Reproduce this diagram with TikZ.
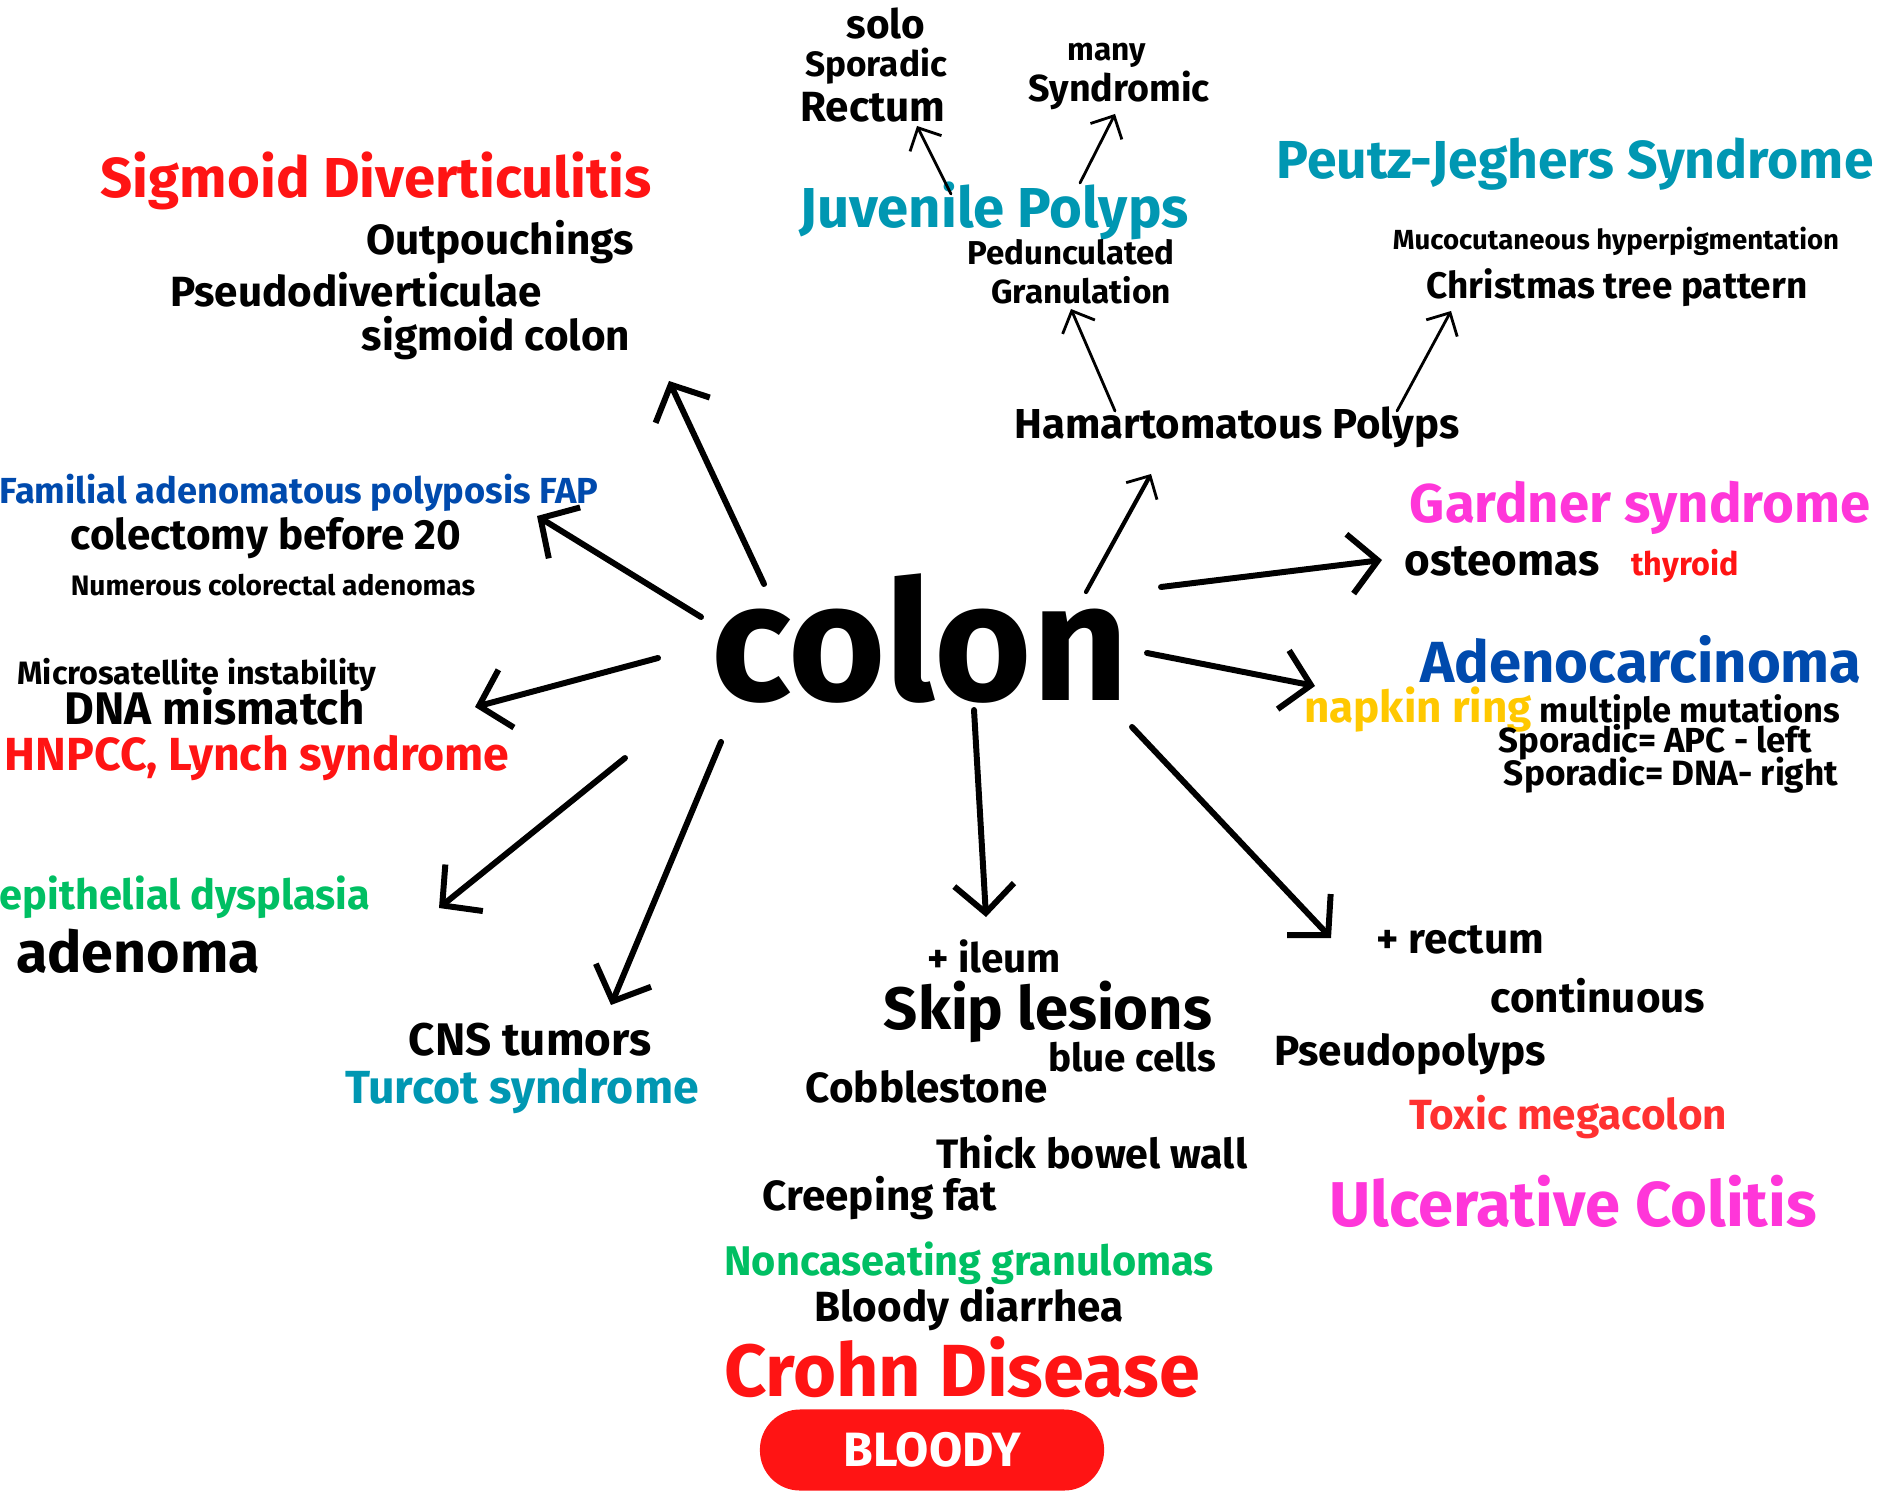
\documentclass[tikz,border=0pt]{standalone}
\usepackage{fontspec}
\setmainfont{Fira Sans}
\usepackage{tikz}
\usetikzlibrary{arrows.meta}

\definecolor{tealc}{HTML}{0097B2}
\definecolor{redc}{HTML}{FF1414}
\definecolor{bluec}{HTML}{004AAD}
\definecolor{pinkc}{HTML}{FF36D9}
\definecolor{greenc}{HTML}{00BF63}
\definecolor{yellowc}{HTML}{FFC800}
\definecolor{toxicc}{HTML}{FF3131}

\newcommand{\txtsize}[1]{\bfseries\fontsize{#1}{#1}\selectfont}

\tikzset{
  lbl/.style={inner sep=0pt},
  bigarrow/.style={line width=1.7pt, line cap=round, -{Straight Barb[length=8pt,width=17pt,line width=1.7pt]}},
  smallarrow/.style={line width=0.8pt, line cap=round, -{Straight Barb[length=5pt,width=10pt,line width=0.8pt]}}
}

\begin{document}
\begin{tikzpicture}[x=0.01cm, y=-0.01cm]
        \useasboundingbox (0,0) rectangle (1880,1492);
        % centre
        \node[lbl, font=\txtsize{47.5}] (colon) at (920,639) {colon};
        % juvenile polyps
        \node[lbl, font=\txtsize{11.5}] (solo) at (886,24) {solo};
        \node[lbl, font=\txtsize{10}] (spor) at (876,66) {Sporadic};
        \node[lbl, font=\txtsize{12}] (rect) at (873,107) {Rectum};
        \node[lbl, font=\txtsize{9}] (many) at (1107,55) {many};
        \node[lbl, font=\txtsize{10.7}] (synd) at (1119,90) {Syndromic};
        \node[lbl, font=\txtsize{16}, text=tealc] (juv) at (994,211) {Juvenile Polyps};
        \node[lbl, font=\txtsize{9.4}] (pedu) at (1071,252) {Pedunculated};
        \node[lbl, font=\txtsize{9.5}] (gran) at (1081,290) {Granulation};
        \node[lbl, font=\txtsize{11.9}] (hama) at (1237,427) {Hamartomatous Polyps};
        % peutz-jeghers
        \node[lbl, font=\txtsize{15.2}, text=tealc] (pjs) at (1575,164) {Peutz-Jeghers Syndrome};
        \node[lbl, font=\txtsize{7.85}] (muco) at (1616,241) {Mucocutaneous hyperpigmentation};
        \node[lbl, font=\txtsize{10.5}] (xmas) at (1617,288) {Christmas tree pattern};
        % sigmoid
        \node[lbl, font=\txtsize{16}, text=redc] (sigd) at (376,181) {Sigmoid Diverticulitis};
        \node[lbl, font=\txtsize{12}] (outp) at (500,242) {Outpouchings};
        \node[lbl, font=\txtsize{12}] (pseud) at (356,290) {Pseudodiverticulae};
        \node[lbl, font=\txtsize{12}] (sigc) at (496,338) {sigmoid colon};
        % FAP
        \node[lbl, font=\txtsize{10.3}, text=bluec] (fap) at (299,493) {Familial adenomatous polyposis FAP};
        \node[lbl, font=\txtsize{12}] (colec) at (266,538) {colectomy before 20};
        \node[lbl, font=\txtsize{8}] (numer) at (273,585) {Numerous colorectal adenomas};
        % HNPCC
        \node[lbl, font=\txtsize{9.2}] (micro) at (197,675) {Microsatellite instability};
        \node[lbl, font=\txtsize{13}] (dnam) at (215,706) {DNA mismatch};
        \node[lbl, font=\txtsize{13.2}, text=redc] (hnpcc) at (257,758) {HNPCC, Lynch syndrome};
        % adenoma
        \node[lbl, font=\txtsize{11.8}, text=greenc] (epit) at (185,897) {epithelial dysplasia};
        \node[lbl, font=\txtsize{16.3}] (aden) at (138,951) {adenoma};
        % turcot
        \node[lbl, font=\txtsize{13}] (cns) at (530,1040) {CNS tumors};
        \node[lbl, font=\txtsize{13.2}, text=tealc] (turc) at (522,1091) {Turcot syndrome};
        % crohn
        \node[lbl, font=\txtsize{11.5}] (ileum) at (994,956) {+ ileum};
        \node[lbl, font=\txtsize{17}] (skip) at (1048,1012) {Skip lesions};
        \node[lbl, font=\txtsize{11}] (bluec) at (1132,1057) {blue cells};
        \node[lbl, font=\txtsize{12}] (cobb) at (927,1087) {Cobblestone};
        \node[lbl, font=\txtsize{11.7}] (thick) at (1092,1152) {Thick bowel wall};
        \node[lbl, font=\txtsize{12}] (creep) at (880,1198) {Creeping fat};
        \node[lbl, font=\txtsize{11.8}, text=greenc] (nonc) at (969,1263) {Noncaseating granulomas};
        \node[lbl, font=\txtsize{12}] (bldd) at (969,1309) {Bloody diarrhea};
        \node[lbl, font=\txtsize{21}, text=redc] (crohn) at (962,1367) {Crohn Disease};
        \node[fill=redc, text=white, font=\txtsize{13.7}, rounded corners=0.4cm,
              minimum width=3.44cm, minimum height=0.81cm] (bloody) at (932,1450) {BLOODY};
        % ulcerative colitis
        \node[lbl, font=\txtsize{12}] (rectum) at (1460,940) {+ rectum};
        \node[lbl, font=\txtsize{12}] (cont) at (1598,996) {continuous};
        \node[lbl, font=\txtsize{12}] (pspol) at (1410,1054) {Pseudopolyps};
        \node[lbl, font=\txtsize{12}, text=toxicc] (toxic) at (1568,1117) {Toxic megacolon};
        \node[lbl, font=\txtsize{18}, text=pinkc] (ucol) at (1573,1201) {Ulcerative Colitis};
        % gardner, adenocarcinoma
        \node[lbl, font=\txtsize{15.5}, text=pinkc] (gard) at (1640,508) {Gardner syndrome};
        \node[lbl, font=\txtsize{12.5}] (osteo) at (1502,561) {osteomas};
        \node[lbl, font=\txtsize{9.2}, text=redc] (thyr) at (1685,566) {thyroid};
        \node[lbl, font=\txtsize{16.5}, text=bluec] (adca) at (1641,659) {Adenocarcinoma};
        \node[lbl, font=\txtsize{12.5}, text=yellowc] (napk) at (1418,710) {napkin ring};
        \node[lbl, font=\txtsize{9.8}] (mult) at (1690,712) {multiple mutations};
        \node[lbl, font=\txtsize{9.9}] (apcl) at (1655,742) {Sporadic= APC - left};
        \node[lbl, font=\txtsize{10}] (dnar) at (1671,775) {Sporadic= DNA- right};

        % arrow ends
        \coordinate (sigS) at (764,584);   \coordinate (sigT) at (669,381);
        \coordinate (fapS) at (701,617);   \coordinate (fapT) at (537,516);
        \coordinate (hnpS) at (658,658);   \coordinate (hnpT) at (475,707);
        \coordinate (adeS) at (625,758);   \coordinate (adeT) at (439,908);
        \coordinate (turS) at (721,742);   \coordinate (turT) at (611,1005);
        \coordinate (skiS) at (974,710);   \coordinate (skiT) at (986,917);
        \coordinate (ulcS) at (1132,727);  \coordinate (ulcT) at (1331,938);
        \coordinate (adcS) at (1147,653);  \coordinate (adcT) at (1315,686);
        \coordinate (garS) at (1161,587);  \coordinate (garT) at (1382,560);
        \coordinate (hamS) at (1086,592);  \coordinate (hamT) at (1151,474);
        \coordinate (graS) at (1115,411);  \coordinate (graT) at (1071,309);
        \coordinate (xmaS) at (1397,411);  \coordinate (xmaT) at (1451,311);
        \coordinate (recS) at (951,194);   \coordinate (recT) at (917,126);
        \coordinate (synS) at (1080,183);  \coordinate (synT) at (1115,114);

        \draw[bigarrow] (sigS) -- (sigT);
        \draw[bigarrow] (fapS) -- (fapT);
        \draw[bigarrow] (hnpS) -- (hnpT);
        \draw[bigarrow] (adeS) -- (adeT);
        \draw[bigarrow] (turS) -- (turT);
        \draw[bigarrow] (skiS) -- (skiT);
        \draw[bigarrow] (ulcS) -- (ulcT);
        \draw[bigarrow] (adcS) -- (adcT);
        \draw[bigarrow] (garS) -- (garT);
        \draw[smallarrow, line width=1.2pt] (hamS) -- (hamT);
        \draw[smallarrow] (graS) -- (graT);
        \draw[smallarrow] (xmaS) -- (xmaT);
        \draw[smallarrow] (recS) -- (recT);
        \draw[smallarrow] (synS) -- (synT);
\end{tikzpicture}
\end{document}
